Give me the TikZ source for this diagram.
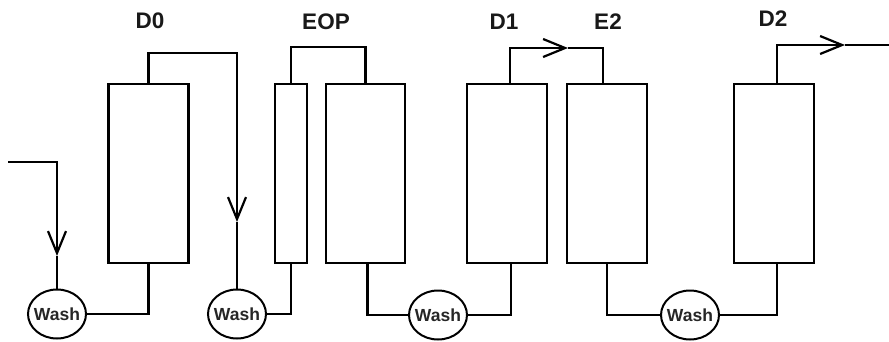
\documentclass[tikz,border=0pt]{standalone}
\usepackage{fontspec}
\setmainfont{Liberation Sans}
\usetikzlibrary{shapes.geometric,arrows.meta}
\begin{document}
\begin{tikzpicture}[x=1pt,y=-1pt,
  stage/.style={draw,line width=2.6pt,minimum width=80pt,minimum height=179pt,inner sep=0pt},
  washer/.style={draw,ellipse,line width=2pt,minimum width=58pt,minimum height=49pt,inner sep=0pt,
    font=\fontsize{17.5}{18}\selectfont\bfseries,text=black!85},
  title/.style={font=\fontsize{22.5}{24}\selectfont\bfseries,text=black!90},
  pipe/.style={line width=2.2pt},
  flow/.style={pipe,-{Straight Barb[length=22pt,width=18pt,line width=2.2pt]}}]
\useasboundingbox (0,0) rectangle (889,341);

% bleaching stages
\node[stage] (d0) at (148.5,173.5) {};
\node[stage,minimum width=32pt] (eopa) at (291,173.5) {};
\node[stage,minimum width=79pt] (eopb) at (365.5,173.5) {};
\node[stage] (d1) at (507,173.5) {};
\node[stage] (e2) at (607,173.5) {};
\node[stage] (d2) at (774,173.5) {};

% washers
\node[washer] (w1) at (57,314) {\makebox[0pt]{Wash}};
\node[washer] (w2) at (237,314) {\makebox[0pt]{Wash}};
\node[washer] (w3) at (438,315) {\makebox[0pt]{Wash}};
\node[washer] (w4) at (690,315) {\makebox[0pt]{Wash}};

% stage names
\node[title] (t0) at (150,21) {D0};
\node[title] (t1) at (326,22) {EOP};
\node[title] (t2) at (504,22) {D1};
\node[title] (t3) at (608,22) {E2};
\node[title] (t4) at (773,19) {D2};

% pipe corners and arrow tips
\coordinate (inlet) at (8,162);
\coordinate (a1) at (57,256);
\coordinate (c0) at (237,53);
\coordinate (a2) at (237,222);
\coordinate (eoptop) at (328,47);
\coordinate (a3) at (568,48);
\coordinate (a4) at (845,45);
\coordinate (outlet) at (889,45);

% pulp flow
\draw[flow] (inlet) -| (a1);
\draw[pipe] (a1) -- (w1.north);
\draw[pipe] (d0.south) |- (w1.east);
\draw[flow] (d0.north) |- (c0) -- (a2);
\draw[pipe] (a2) -- (w2.north);
\draw[pipe] (eopa.south) |- (w2.east);
\draw[pipe] (eopa.north) |- (eoptop) -| (eopb.north);
\draw[pipe] ([xshift=2pt]eopb.south) |- (w3.west);
\draw[pipe] ([xshift=4pt]d1.south) |- (w3.east);
\draw[flow] ([xshift=3pt]d1.north) |- (a3);
\draw[pipe] (a3) -| ([xshift=-4pt]e2.north);
\draw[pipe] (e2.south) |- (w4.west);
\draw[pipe] ([xshift=3pt]d2.south) |- (w4.east);
\draw[flow] ([xshift=3pt]d2.north) |- (a4);
\draw[pipe] (a4) -- (outlet);
\end{tikzpicture}
\end{document}
